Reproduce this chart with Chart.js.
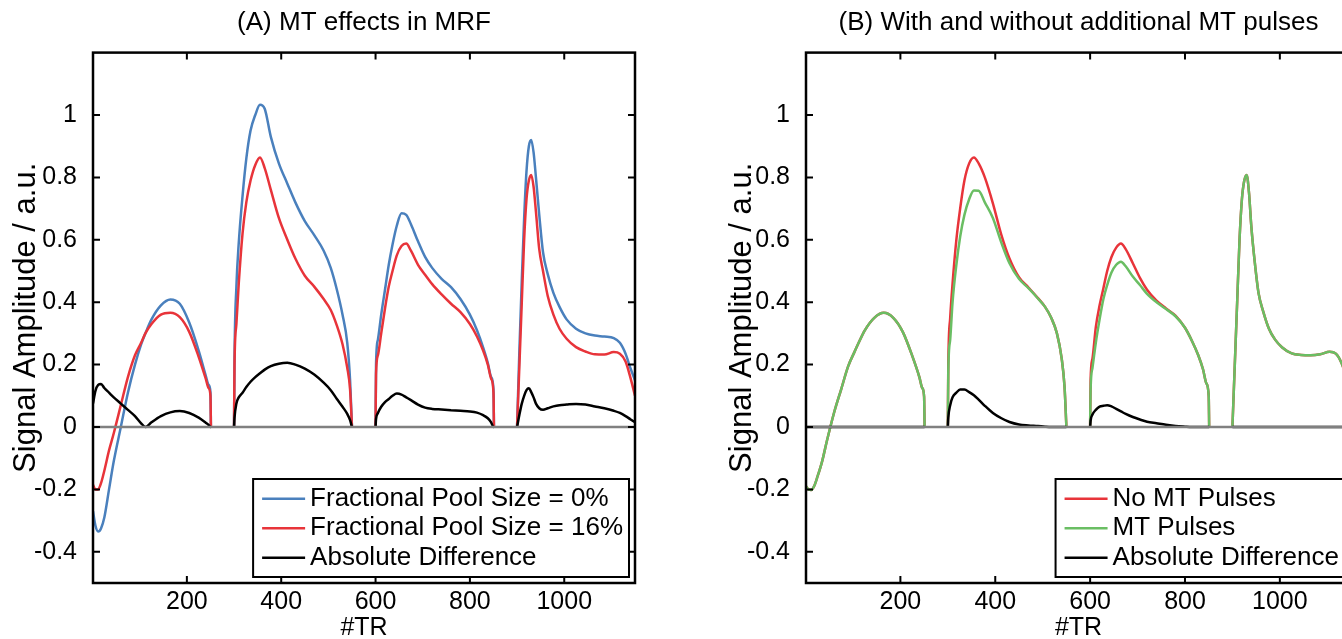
<!DOCTYPE html>
<html>
<head>
<meta charset="utf-8">
<script src="https://cdn.jsdelivr.net/npm/chart.js@4.4.0/dist/chart.umd.min.js"></script>
<style>
    body { margin: 0; width: 1342px; height: 639px; overflow: hidden; background: #fff; position: relative; }
    canvas { position: absolute; top: 0; }
    #chartA { left: 0; }
    #chartB { left: 700px; }
</style>
</head>
<body>
<canvas id="chartA" width="660" height="639"></canvas>
<canvas id="chartB" width="680" height="639"></canvas>
<script>
// sampled #TR positions (null values = gaps between the four blocks)
const tr = [
    1, 6, 12, 18, 25, 35, 45, 60, 75, 90, 103, 112, 125, 145, 165, 185, 205, 225, 240, 246, 250, 251,
    275,
    300, 301, 305, 310, 318, 326, 335, 345, 355, 365, 378, 395, 413, 430, 450, 470, 490, 505, 518, 530, 540, 546, 550,
    575,
    600, 601, 605, 612, 620, 628, 636, 645, 655, 665, 675, 690, 705, 720, 740, 760, 780, 800, 815, 828, 838, 845, 850, 851,
    875,
    900, 905, 910, 915, 920, 925, 930, 935, 940, 947, 955, 965, 977, 990, 1005, 1025, 1045, 1065, 1085, 1105, 1118, 1130, 1140, 1150
];
const xTicks = [200, 400, 600, 800, 1000];
const yTicks = [-0.4, -0.2, 0, 0.2, 0.4, 0.6, 0.8, 1];

// (A) MT effects in MRF
const pool0 = [
    -0.27, -0.315, -0.335, -0.325, -0.29, -0.2, -0.11, 0, 0.11, 0.2, 0.265, 0.3, 0.345, 0.39, 0.409, 0.395, 0.335, 0.245, 0.165, 0.135, 0.112, 0,
    null,
    0, 0.22, 0.45, 0.59, 0.74, 0.86, 0.95, 1.0, 1.033, 1.02, 0.93, 0.845, 0.78, 0.72, 0.66, 0.615, 0.565, 0.51, 0.44, 0.36, 0.27, 0.15, 0,
    null,
    0, 0.2, 0.28, 0.36, 0.44, 0.52, 0.585, 0.645, 0.685, 0.68, 0.65, 0.595, 0.545, 0.51, 0.475, 0.448, 0.41, 0.36, 0.31, 0.255, 0.205, 0.16, 0.12, 0,
    null,
    0, 0.25, 0.47, 0.67, 0.82, 0.9, 0.92, 0.88, 0.8, 0.68, 0.56, 0.49, 0.43, 0.385, 0.345, 0.315, 0.3, 0.293, 0.29, 0.285, 0.27, 0.235, 0.19, 0.15
];
const pool16 = [
    -0.185, -0.2, -0.2, -0.18, -0.14, -0.075, -0.02, 0.07, 0.16, 0.23, 0.27, 0.3, 0.33, 0.36, 0.366, 0.352, 0.305, 0.225, 0.155, 0.125, 0.1, 0,
    null,
    0, 0.2, 0.33, 0.46, 0.62, 0.72, 0.79, 0.84, 0.864, 0.83, 0.76, 0.67, 0.6, 0.54, 0.485, 0.45, 0.41, 0.375, 0.325, 0.265, 0.19, 0.12, 0,
    null,
    0, 0.17, 0.23, 0.3, 0.38, 0.45, 0.5, 0.55, 0.58, 0.588, 0.565, 0.52, 0.488, 0.458, 0.425, 0.395, 0.368, 0.33, 0.29, 0.245, 0.2, 0.155, 0.11, 0,
    null,
    0, 0.2, 0.4, 0.6, 0.73, 0.79, 0.808, 0.77, 0.69, 0.57, 0.5, 0.42, 0.36, 0.315, 0.283, 0.256, 0.242, 0.233, 0.232, 0.24, 0.235, 0.21, 0.16, 0.1
];
const diffA = [
    0.075, 0.115, 0.135, 0.138, 0.125, 0.11, 0.095, 0.075, 0.055, 0.035, 0.012, 0, 0.015, 0.035, 0.047, 0.051, 0.045, 0.03, 0.014, 0.007, 0, 0,
    null,
    0, 0.03, 0.075, 0.095, 0.11, 0.128, 0.145, 0.16, 0.172, 0.184, 0.195, 0.203, 0.206, 0.2, 0.187, 0.168, 0.142, 0.118, 0.09, 0.065, 0.042, 0.022, 0,
    null,
    0, 0.025, 0.045, 0.065, 0.08, 0.09, 0.1, 0.107, 0.104, 0.095, 0.086, 0.072, 0.062, 0.058, 0.056, 0.054, 0.052, 0.05, 0.046, 0.038, 0.028, 0.015, 0, 0,
    null,
    0, 0.04, 0.075, 0.1, 0.118, 0.124, 0.112, 0.095, 0.075, 0.06, 0.055, 0.06, 0.066, 0.07, 0.072, 0.074, 0.072, 0.066, 0.06, 0.052, 0.045, 0.035, 0.025, 0.015
];

// (B) With and without additional MT pulses
const noMT = [
    -0.19, -0.2, -0.202, -0.19, -0.16, -0.11, -0.045, 0.045, 0.12, 0.195, 0.24, 0.27, 0.31, 0.35, 0.366, 0.35, 0.305, 0.228, 0.16, 0.125, 0.097, 0,
    null,
    0, 0.2, 0.35, 0.46, 0.6, 0.7, 0.79, 0.845, 0.864, 0.845, 0.8, 0.717, 0.615, 0.54, 0.48, 0.447, 0.413, 0.385, 0.35, 0.3, 0.22, 0.13, 0,
    null,
    0, 0.15, 0.22, 0.32, 0.39, 0.445, 0.5, 0.545, 0.575, 0.588, 0.57, 0.525, 0.478, 0.44, 0.405, 0.38, 0.357, 0.318, 0.275, 0.23, 0.185, 0.14, 0.1, 0,
    null,
    0, 0.2, 0.4, 0.6, 0.73, 0.79, 0.808, 0.75, 0.64, 0.53, 0.43, 0.37, 0.315, 0.28, 0.255, 0.236, 0.231, 0.23, 0.233, 0.241, 0.235, 0.205, 0.16, 0.1
];
const withMT = [
    -0.19, -0.2, -0.202, -0.19, -0.16, -0.11, -0.045, 0.045, 0.12, 0.195, 0.24, 0.27, 0.31, 0.35, 0.366, 0.35, 0.305, 0.228, 0.16, 0.125, 0.097, 0,
    null,
    0, 0.18, 0.28, 0.4, 0.52, 0.61, 0.68, 0.73, 0.758, 0.757, 0.72, 0.67, 0.59, 0.525, 0.475, 0.445, 0.412, 0.385, 0.35, 0.3, 0.22, 0.13, 0,
    null,
    0, 0.12, 0.19, 0.27, 0.345, 0.41, 0.455, 0.495, 0.52, 0.53, 0.515, 0.482, 0.455, 0.427, 0.4, 0.378, 0.355, 0.318, 0.275, 0.23, 0.185, 0.14, 0.1, 0,
    null,
    0, 0.2, 0.4, 0.6, 0.73, 0.79, 0.808, 0.75, 0.64, 0.53, 0.43, 0.37, 0.315, 0.28, 0.255, 0.236, 0.231, 0.23, 0.233, 0.241, 0.235, 0.205, 0.16, 0.1
];
const diffB = [
    0, 0, 0, 0, 0, 0, 0, 0, 0, 0, 0, 0, 0, 0, 0, 0, 0, 0, 0, 0, 0, 0,
    null,
    0, 0.03, 0.07, 0.095, 0.11, 0.12, 0.12, 0.112, 0.102, 0.088, 0.068, 0.045, 0.028, 0.016, 0.008, 0.005, 0.003, 0.001, 0, 0, 0, 0, 0,
    null,
    0, 0.02, 0.04, 0.055, 0.065, 0.068, 0.07, 0.066, 0.058, 0.05, 0.042, 0.032, 0.024, 0.017, 0.012, 0.007, 0.003, 0.001, 0, 0, 0, 0, 0, 0,
    null,
    0, 0, 0, 0, 0, 0, 0, 0, 0, 0, 0, 0, 0, 0, 0, 0, 0, 0, 0, 0, 0, 0, 0, 0
];

const FONT = '"Liberation Sans", Arial, Helvetica, sans-serif';
Chart.defaults.font.family = FONT;
Chart.defaults.color = '#000';

const toPoints = (vals) => tr.map((x, i) => ({ x: x, y: vals[i] }));

function series(label, vals, color, order) {
    return {
        label: label,
        data: toPoints(vals),
        borderColor: color,
        backgroundColor: color,
        borderWidth: 2.5,
        pointRadius: 0,
        cubicInterpolationMode: 'monotone',
        spanGaps: false,
        order: order
    };
}

// zero line, inward ticks, box, title and legend in MATLAB style
const framePlugin = {
    id: 'frame',
    afterDatasetsDraw(chart) {
        const { ctx, chartArea: a, scales: { y } } = chart;
        const y0 = y.getPixelForValue(0);
        ctx.save();
        ctx.strokeStyle = '#808080';
        ctx.lineWidth = 2.5;
        ctx.beginPath();
        ctx.moveTo(a.left, y0);
        ctx.lineTo(a.right, y0);
        ctx.stroke();
        ctx.restore();
    },
    afterDraw(chart, args, opts) {
        const { ctx, chartArea: a, scales: { x, y } } = chart;
        ctx.save();
        ctx.strokeStyle = '#000';
        ctx.lineWidth = 2;
        ctx.beginPath();
        x.ticks.forEach((t) => {
            const px = x.getPixelForValue(t.value);
            ctx.moveTo(px, a.bottom); ctx.lineTo(px, a.bottom - 7);
            ctx.moveTo(px, a.top); ctx.lineTo(px, a.top + 7);
        });
        y.ticks.forEach((t) => {
            const py = y.getPixelForValue(t.value);
            ctx.moveTo(a.left, py); ctx.lineTo(a.left + 7, py);
            ctx.moveTo(a.right, py); ctx.lineTo(a.right - 7, py);
        });
        ctx.stroke();
        ctx.lineWidth = 2.5;
        ctx.strokeRect(a.left, a.top, a.right - a.left, a.bottom - a.top);

        // title
        ctx.font = '26px ' + FONT;
        ctx.fillStyle = '#000';
        ctx.textAlign = 'center';
        ctx.textBaseline = 'middle';
        ctx.fillText(opts.text, (a.left + a.right) / 2, 23);

        // legend box
        const sets = chart.data.datasets;
        const textW = Math.max(...sets.map((d) => ctx.measureText(d.label).width));
        const w = 9 + 43 + 5 + textW + 6;
        const h = 98;
        const bx = a.right - 6 - w;
        const by = a.bottom - 6 - h;
        ctx.fillStyle = '#fff';
        ctx.fillRect(bx, by, w, h);
        ctx.strokeStyle = '#000';
        ctx.lineWidth = 2;
        ctx.strokeRect(bx, by, w, h);
        ctx.textAlign = 'left';
        sets.forEach((d, i) => {
            const ry = by + 5 + 14.75 + i * 29.5;
            ctx.strokeStyle = d.borderColor;
            ctx.lineWidth = 2.5;
            ctx.beginPath();
            ctx.moveTo(bx + 9, ry);
            ctx.lineTo(bx + 52, ry);
            ctx.stroke();
            ctx.fillStyle = '#000';
            ctx.fillText(d.label, bx + 57, ry);
        });
        ctx.restore();
    }
};

function makeOptions(title, yWidth, yTitlePad, rightPad) {
    return {
        responsive: false,
        animation: false,
        events: [],
        layout: { padding: { top: 52.6, right: rightPad, bottom: 0, left: 0 } },
        plugins: {
            legend: { display: false },
            tooltip: { enabled: false },
            frame: { text: title }
        },
        scales: {
            x: {
                type: 'linear',
                min: 1,
                max: 1150,
                afterBuildTicks: (s) => { s.ticks = xTicks.map((v) => ({ value: v })); },
                afterFit: (s) => { s.height = 56; },
                grid: { display: false },
                border: { display: false },
                ticks: { font: { size: 25 }, color: '#000', padding: -4, maxRotation: 0, autoSkip: false, callback: (v) => String(v) },
                title: { display: true, text: '#TR', color: '#000', font: { size: 25, lineHeight: 0.85 }, padding: 0 }
            },
            y: {
                type: 'linear',
                min: -0.5,
                max: 1.2,
                afterBuildTicks: (s) => { s.ticks = yTicks.map((v) => ({ value: v })); },
                afterFit: (s) => { s.width = yWidth; },
                grid: { display: false },
                border: { display: false },
                ticks: { font: { size: 25 }, color: '#000', padding: 8, callback: (v) => String(v) },
                title: { display: true, text: 'Signal Amplitude / a.u.', color: '#000', font: { size: 31, lineHeight: 1 }, padding: { top: yTitlePad, bottom: 0 } }
            }
        }
    };
}

new Chart(document.getElementById('chartA'), {
    type: 'line',
    data: {
        datasets: [
            series('Fractional Pool Size = 0%', pool0, '#4a80bd', 3),
            series('Fractional Pool Size = 16%', pool16, '#e8343a', 2),
            series('Absolute Difference', diffA, '#000000', 1)
        ]
    },
    options: makeOptions('(A) MT effects in MRF', 93, 11, 25),
    plugins: [framePlugin]
});

new Chart(document.getElementById('chartB'), {
    type: 'line',
    data: {
        datasets: [
            series('No MT Pulses', noMT, '#e8343a', 3),
            series('MT Pulses', withMT, '#6abe63', 2),
            series('Absolute Difference', diffB, '#000000', 1)
        ]
    },
    options: makeOptions('(B) With and without additional MT pulses', 106, 27, 29),
    plugins: [framePlugin]
});
</script>
</body>
</html>
